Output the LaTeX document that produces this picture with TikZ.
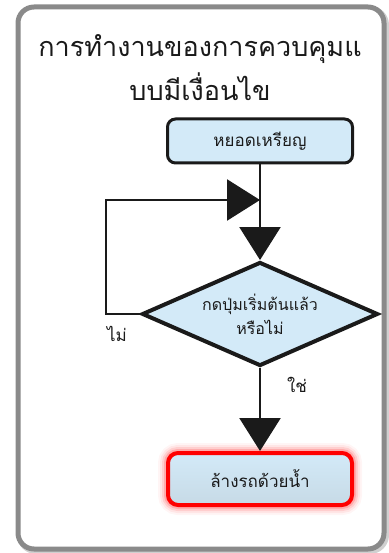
\documentclass[tikz,border=0pt]{standalone}
\usepackage{fontspec}
\newfontfamily\thaifont[Script=Thai]{Loma}
\usetikzlibrary{arrows.meta,positioning,shapes.geometric}
\definecolor{Ink}{HTML}{1A1A1A}
\definecolor{BoxFill}{HTML}{D3EAF8}
\definecolor{FrameGray}{HTML}{8A8A8A}
\definecolor{GlowRed}{HTML}{FF0000}

\begin{document}
\begin{tikzpicture}[x=1pt,y=-1pt,
  stepbox/.style={draw=Ink,fill=BoxFill,rounded corners=8pt,line width=3pt,minimum width=185pt,minimum height=44pt,font=\thaifont\fontsize{17}{19}\selectfont,text=Ink},
  choice/.style={diamond,aspect=2.3,draw=Ink,fill=BoxFill,line width=4pt,minimum width=236pt,minimum height=104pt,inner sep=0pt,align=center,font=\thaifont\fontsize{16}{24}\selectfont,text=Ink},
  flow/.style={draw=Ink,line width=2.5pt,-{Triangle[length=33pt,width=41pt]}},
  lbl/.style={font=\thaifont\fontsize{17}{19}\selectfont,text=Ink}]
\useasboundingbox (0,0) rectangle (388,553);
\draw[FrameGray!40,line width=6pt,rounded corners=16pt] (20,9) rectangle (386,551);
\draw[FrameGray,line width=5pt,rounded corners=16pt,fill=white] (18,7) rectangle (384,549);
\node[font=\thaifont\fontsize{27}{44}\selectfont,align=center,text=Ink] (title) at (200,68) {การทำงานของการควบคุมแ\\บบมีเงื่อนไข};
\node[stepbox] (coin) at (260,141) {หยอดเหรียญ};
\node[choice] (press) at (260,314) {กดปุ่มเริ่มต้นแล้ว\\หรือไม่};
% glow round the last step
\foreach \w/\o in {20/0.04,16/0.06,12/0.1,8/0.16} {\draw[GlowRed,opacity=\o,line width=\w pt,rounded corners=10pt] (168,453) rectangle (352,505);}
\node[stepbox,draw=GlowRed,line width=4pt,top color=BoxFill,bottom color=BoxFill!85!gray,minimum width=184pt,minimum height=52pt,rounded corners=10pt] (wash) at (260,479) {ล้างรถด้วยน้ำ};
\coordinate (join) at (260,200);
\draw[flow] (coin.south) -- (press.north);
\draw[flow] (press.west) -- ++(-34,0) |- (join);
\draw[flow] (press.south) -- (wash.north);
\node[lbl] (no) at (117,334) {ไม่};
\node[lbl] (yes) at (297,385) {ใช่};
\end{tikzpicture}
\end{document}
